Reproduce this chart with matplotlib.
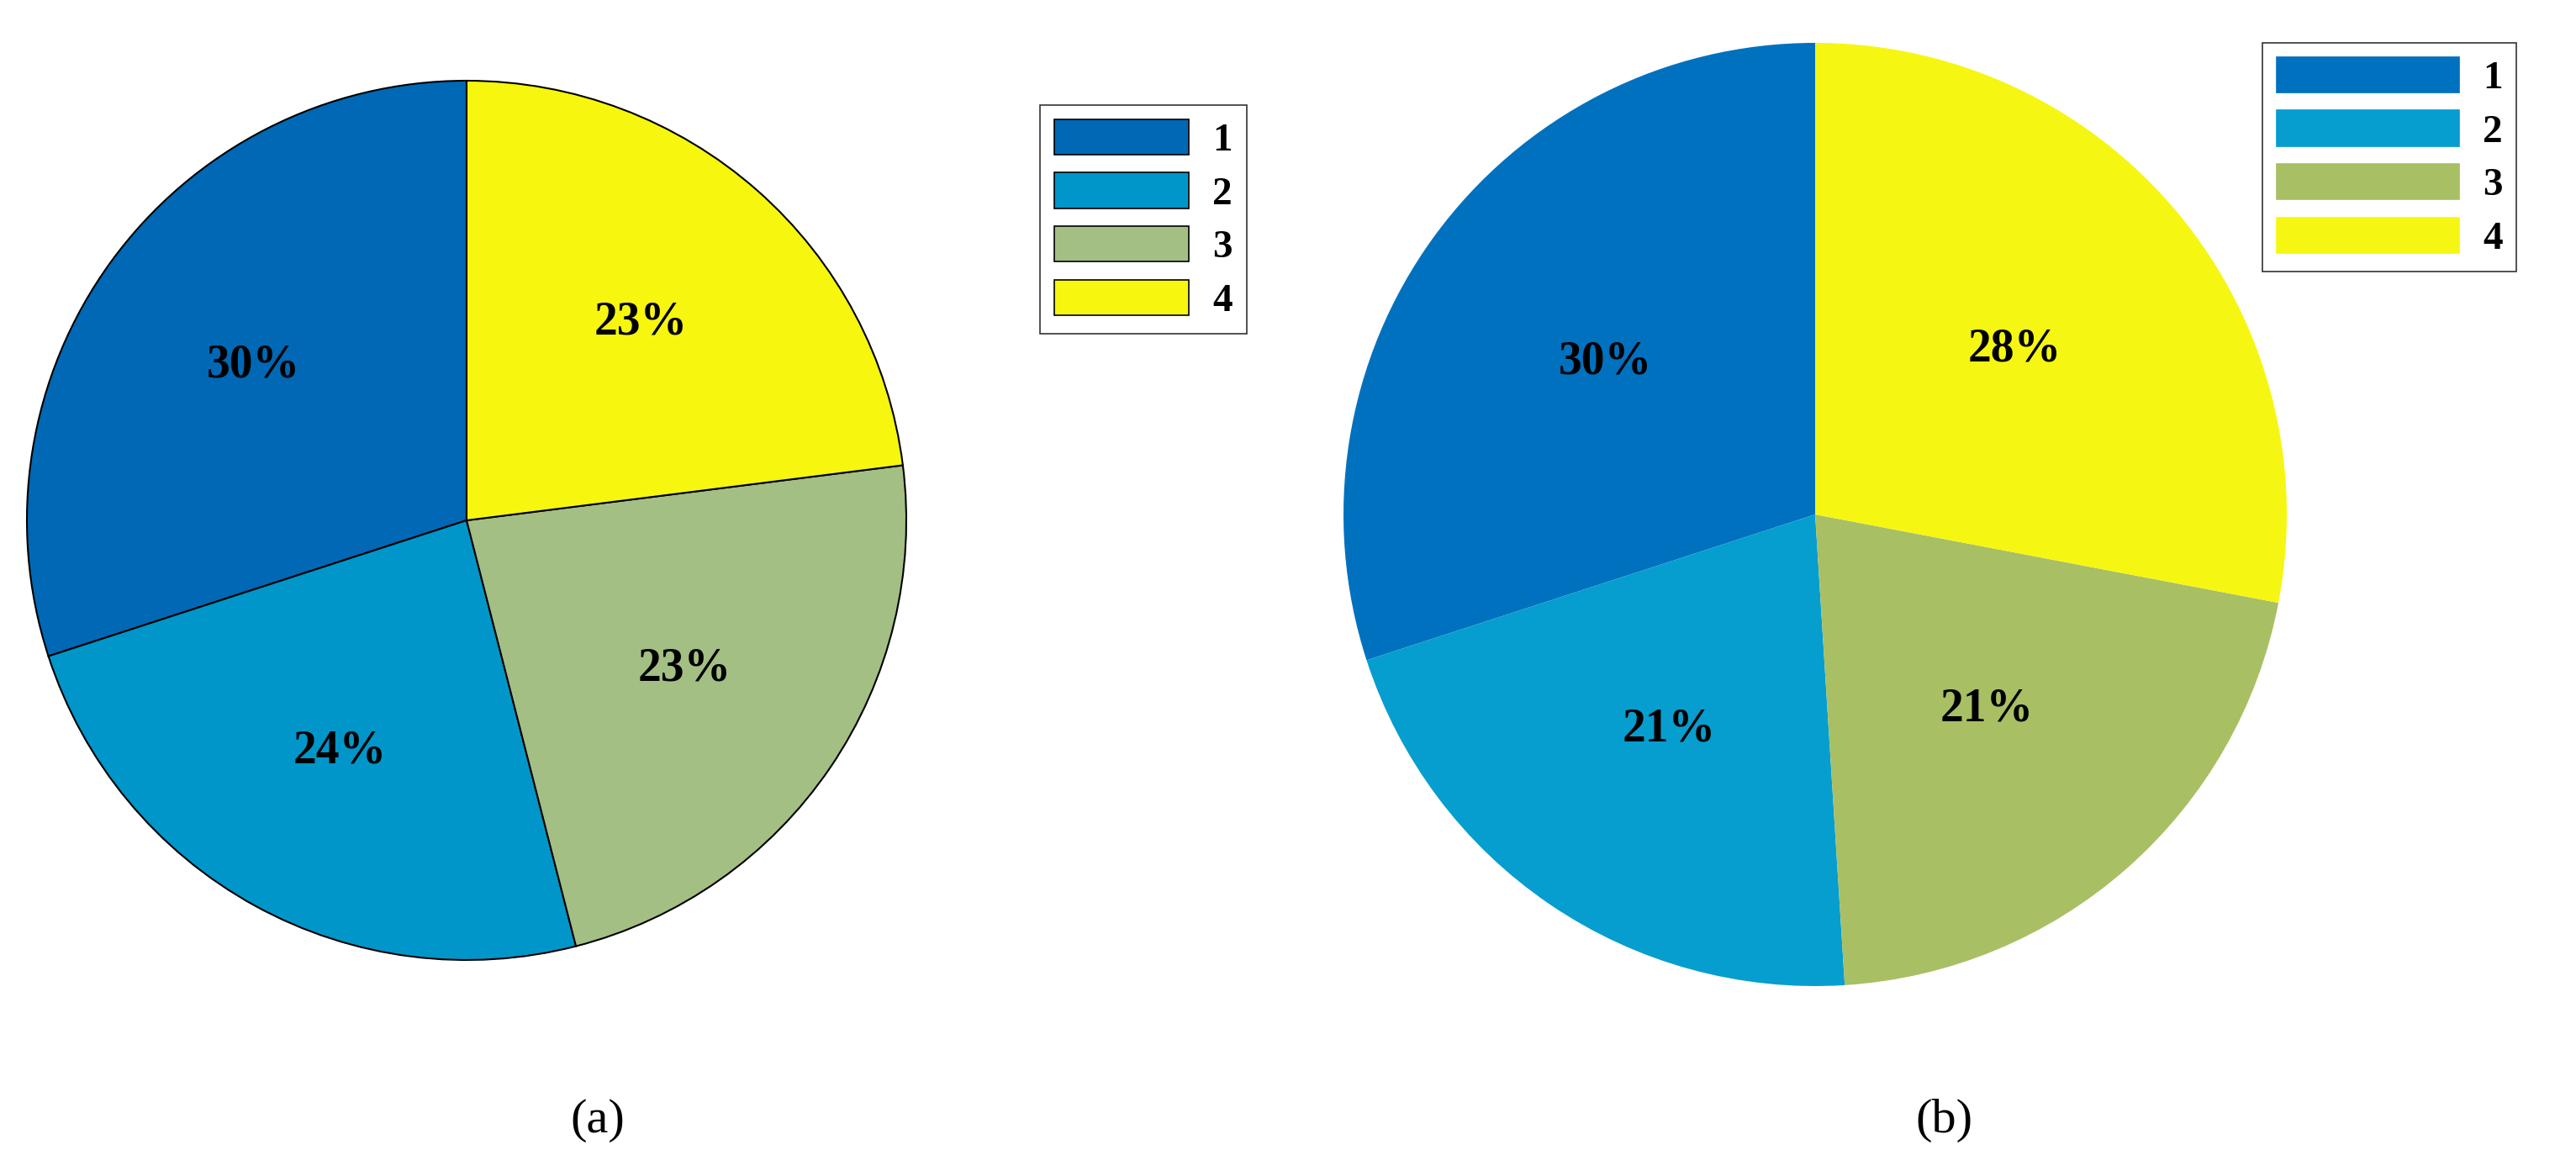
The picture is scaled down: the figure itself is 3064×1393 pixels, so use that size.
import matplotlib
matplotlib.use("Agg")
import matplotlib.pyplot as plt
from matplotlib.patches import Patch

labels = ["1", "2", "3", "4"]
vals_a = [30, 24, 23, 23]
vals_b = [30, 21, 21, 28]
cols_a = ["#0068B4", "#0096C9", "#A3BF84", "#F6F60F"]
cols_b = ["#0071BE", "#069DCF", "#A8BF64", "#F6F613"]

W, H = 3064, 1393
fig = plt.figure(figsize=(W/100, H/100), dpi=100)
ax = fig.add_axes([0, 0, 1, 1])
ax.set_xlim(0, W); ax.set_ylim(H, 0); ax.set_aspect("equal"); ax.axis("off")

font = dict(family="Liberation Serif", weight="bold")

def draw(vals, cols, center, r, edge, pd):
    wedges, _, autotexts = ax.pie(vals, colors=cols, startangle=90, counterclock=True,
        center=center, radius=r, autopct="%d%%", pctdistance=pd,
        wedgeprops=dict(edgecolor="black" if edge else "none", linewidth=1.5))
    for t in autotexts:
        t.set_fontfamily("Liberation Serif"); t.set_fontweight("bold"); t.set_fontsize(40)
    return wedges

# y axis inverted: negate angles by flipping — pie draws in data coords, so mirror via counterclock
ax.set_ylim(0, H)
draw(vals_a, cols_a, (555, H-619), 523, True, 0.6)
draw(vals_b, cols_b, (2159, H-612), 561, False, 0.55)
ax.set_xlim(0, W); ax.set_ylim(0, H)

def leg(cols, edge, anchor):
    hs = [Patch(facecolor=c, edgecolor="black" if edge else c, linewidth=1.2) for c in cols]
    l = fig.legend(hs, labels, loc="upper left", bbox_to_anchor=anchor,
                   prop=dict(family="Liberation Serif", weight="bold", size=34),
                   frameon=True, fancybox=False, edgecolor="black",
                   handlelength=3.4 if edge else 4.6, handleheight=1.0,
                   labelspacing=0.35, borderpad=0.35, handletextpad=0.6, borderaxespad=0)
    l.get_frame().set_linewidth(1.2)

leg(cols_a, True, (1237/W, 1-125/H))
leg(cols_b, False, (2691/W, 1-51/H))

fig.text(711/W, 1-1333/H, "(a)", ha="center", va="center", fontsize=42, family="Liberation Serif")
fig.text(2312/W, 1-1333/H, "(b)", ha="center", va="center", fontsize=42, family="Liberation Serif")
fig.savefig("out.png", dpi=100)
